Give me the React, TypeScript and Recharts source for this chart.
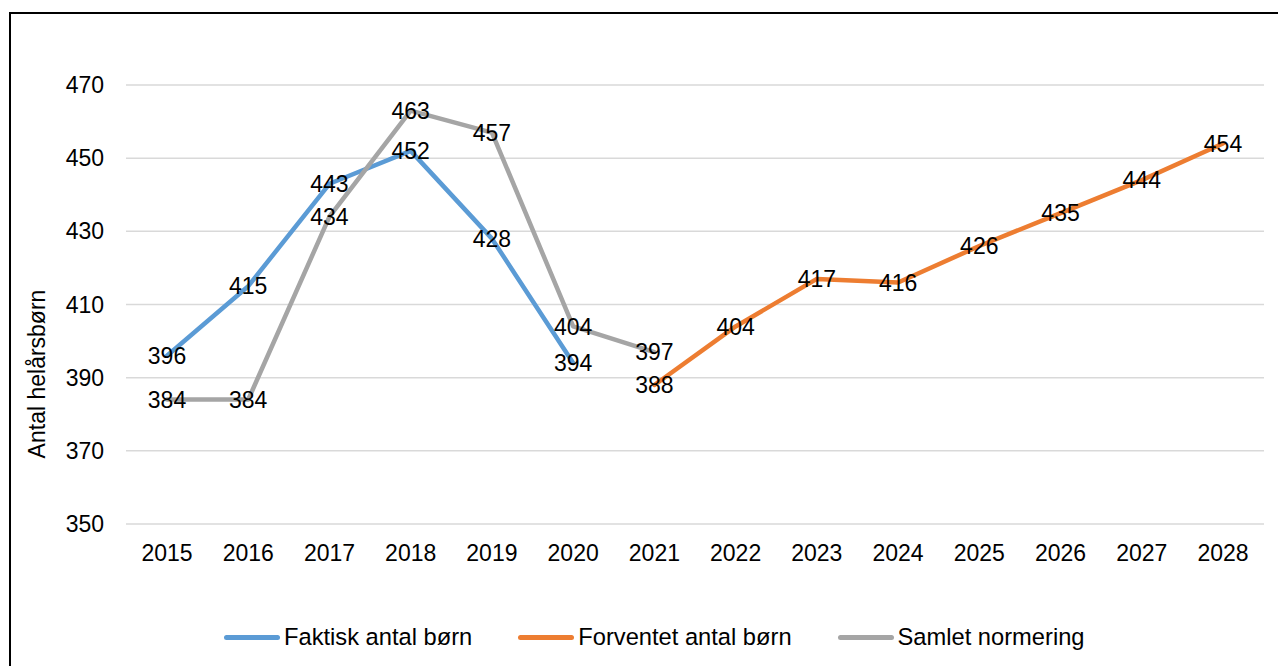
import type { JSX } from 'react';
import { LineChart, Line, XAxis, YAxis, CartesianGrid } from 'recharts';

const years = ['2015', '2016', '2017', '2018', '2019', '2020', '2021', '2022', '2023', '2024', '2025', '2026', '2027', '2028'];
// null = no value that year
const faktisk = [396, 415, 443, 452, 428, 394, null, null, null, null, null, null, null, null];
const forventet = [null, null, null, null, null, null, 388, 404, 417, 416, 426, 435, 444, 454];
const normering = [384, 384, 434, 463, 457, 404, 397, null, null, null, null, null, null, null];
const yTicks = [350, 370, 390, 410, 430, 450, 470];

const FONT = '"Liberation Sans", Arial, sans-serif';
const BLUE = '#5B9BD5';
const ORANGE = '#ED7D31';
const GRAY = '#A5A5A5';

const data = years.map((year, i) => ({
  year,
  faktisk: faktisk[i],
  forventet: forventet[i],
  normering: normering[i],
}));

const legendItems = [
  { name: 'Faktisk antal børn', color: BLUE },
  { name: 'Forventet antal børn', color: ORANGE },
  { name: 'Samlet normering', color: GRAY },
];

function pointLabel(props: any) {
  const { x, y, value, index } = props;
  if (value == null || y == null) return null;
  return (
    <text key={index} x={x} y={y} dy="0.36em" textAnchor="middle" fontSize={23} fontFamily={FONT} fill="#000">
      {value}
    </text>
  );
}

function yLabel() {
  return (
    <text x={37} y={374} transform="rotate(-90, 37, 374)" textAnchor="middle" dy="0.36em" fontSize={23} fontFamily={FONT} fill="#000">
      Antal helårsbørn
    </text>
  );
}

export default function App(): JSX.Element {
  return (
    <div style={{ position: 'absolute', left: 0, top: 0, width: 1278, height: 666, overflow: 'hidden', background: '#fff', fontFamily: FONT }}>
      <div style={{ position: 'absolute', left: 9, top: 12, width: 1400, height: 800, border: '2px solid #000', boxSizing: 'border-box' }} />
      <div style={{ position: 'absolute', left: 0, top: 0 }}>
        <LineChart width={1278} height={666} data={data} margin={{ top: 85, right: 14, bottom: 112, left: 10 }}>
          <CartesianGrid vertical={false} stroke="#d9d9d9" strokeWidth={1.5} />
          <XAxis
            dataKey="year"
            axisLine={false}
            tickLine={false}
            tickMargin={15}
            height={30}
            padding={{ left: 41, right: 41 }}
            tick={{ fill: '#000', fontSize: 23, fontFamily: FONT }}
          />
          <YAxis
            domain={[350, 470]}
            ticks={yTicks}
            axisLine={false}
            tickLine={false}
            tickMargin={16}
            width={116}
            tick={{ fill: '#000', fontSize: 23, fontFamily: FONT }}
            label={yLabel}
          />
          <Line dataKey="faktisk" name="Faktisk antal børn" stroke={BLUE} strokeWidth={4.5} strokeLinejoin="round" strokeLinecap="round" dot={false} isAnimationActive={false} label={pointLabel} />
          <Line dataKey="forventet" name="Forventet antal børn" stroke={ORANGE} strokeWidth={4.5} strokeLinejoin="round" strokeLinecap="round" dot={false} isAnimationActive={false} label={pointLabel} />
          <Line dataKey="normering" name="Samlet normering" stroke={GRAY} strokeWidth={4.5} strokeLinejoin="round" strokeLinecap="round" dot={false} isAnimationActive={false} label={pointLabel} />
        </LineChart>
      </div>
      <div style={{ position: 'absolute', left: 224, top: 625, display: 'flex', alignItems: 'center', gap: 46, fontSize: 23.7, lineHeight: '24px', color: '#000' }}>
        {legendItems.map((item) => (
          <div key={item.name} style={{ display: 'flex', alignItems: 'center', gap: 4 }}>
            <span style={{ display: 'inline-block', width: 56, height: 5, borderRadius: 3, background: item.color }} />
            <span>{item.name}</span>
          </div>
        ))}
      </div>
    </div>
  );
}
